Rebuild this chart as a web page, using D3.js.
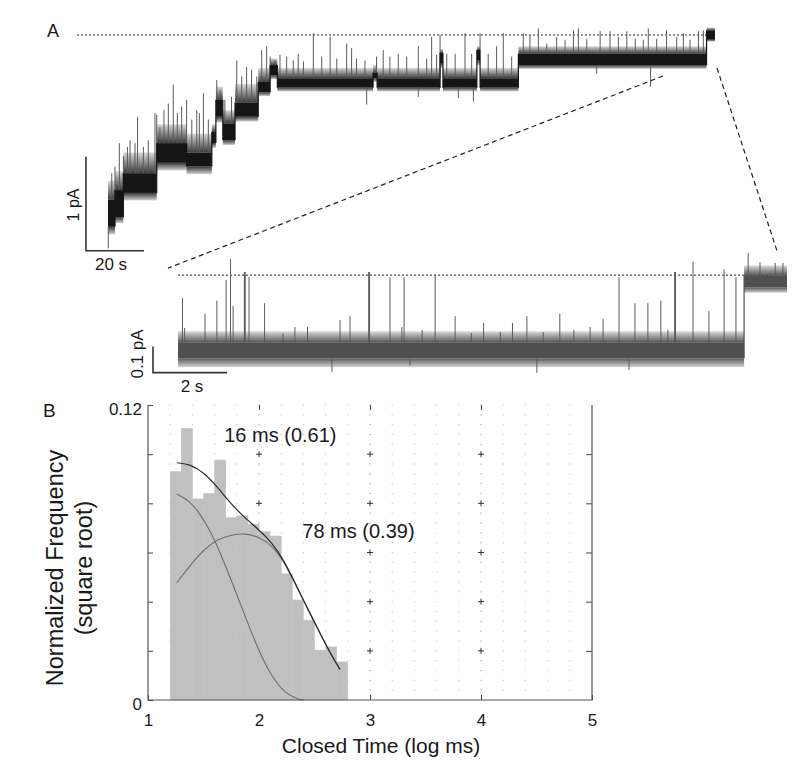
<!DOCTYPE html>
<html><head><meta charset="utf-8">
<script src="https://cdn.jsdelivr.net/npm/d3@7"></script>
<style>
body{margin:0;background:#fff}
svg{display:block}
text{font-family:"Liberation Sans",Arial,Helvetica,sans-serif;fill:#1a1a1a}
</style>
</head><body>
<svg id="c" width="800" height="766"></svg>
<script>
// ===================== DATA =====================
// Panel A, full record. Time in s, current in pA.
// [tStart, tEnd, coreLow, coreHigh, noiseLow, noiseHigh]
const levelsA = [
  [0, 2.4, 0.46, 0.75, 0.38, 0.95],
  [2.4, 5.3, 0.56, 0.85, 0.50, 1.05],
  [5.3, 16.8, 0.82, 1.03, 0.74, 1.25],
  [16.8, 27.1, 1.14, 1.35, 1.06, 1.55],
  [27.1, 35.8, 1.10, 1.25, 1.02, 1.45],
  [35.8, 37.2, 1.35, 1.47, 1.30, 1.55],
  [37.2, 39.6, 1.63, 1.81, 1.57, 1.95],
  [39.6, 43.8, 1.38, 1.56, 1.33, 1.70],
  [43.8, 51.8, 1.63, 1.78, 1.58, 1.98],
  [51.8, 55.9, 1.89, 2.00, 1.85, 2.15],
  [55.9, 58.4, 2.07, 2.18, 2.03, 2.25],
  [58.4, 91.4, 1.94, 2.04, 1.90, 2.15],
  [91.4, 92.8, 2.04, 2.10, 2.00, 2.18],
  [92.8, 114.5, 1.94, 2.04, 1.90, 2.15],
  [114.5, 115.5, 2.20, 2.31, 2.15, 2.35],
  [115.5, 127.2, 1.94, 2.04, 1.90, 2.15],
  [127.2, 128.3, 2.23, 2.34, 2.18, 2.38],
  [128.3, 141.5, 1.94, 2.04, 1.90, 2.15],
  [141.5, 206.4, 2.18, 2.30, 2.14, 2.38],
  [206.4, 209.3, 2.45, 2.55, 2.43, 2.58]
];
// upward openings [time, peak current]
const spikesUpA = [
  [1.3,1.03],[2.4,1.10],[3.9,1.35],[5.3,1.21],[6.7,1.31],[7.6,1.38],[9.3,1.35],[10.2,1.63],
  [12.2,1.31],[13.9,1.38],[16.2,1.67],[16.8,1.65],[17.9,1.52],[19.3,1.70],[20.8,1.77],[22.5,1.97],
  [23.9,1.67],[25.4,1.74],[27.1,1.81],[28.9,1.60],[30.6,1.70],[31.5,1.67],[32.9,1.88],[34.6,1.60],
  [37.5,2.02],[38.6,1.91],[40.3,1.81],[42.6,1.84],[44.4,2.23],[46.1,2.06],[47.8,2.16],[49.5,2.13],
  [51.3,2.06],[53.0,2.34],[54.7,2.38],[55.9,2.27],[57.6,2.23],[59.3,2.29],[61.6,2.27],[63.9,2.23],
  [65.6,2.30],[67.4,2.22],[70.8,2.52],[73.7,2.27],[76.6,2.48],[78.9,2.25],[82.3,2.41],[84.0,2.36],
  [85.7,2.25],[88.6,2.23],[92.6,2.27],[94.9,2.34],[97.2,2.27],[100.1,2.30],[103.0,2.27],[107.0,2.38],
  [109.9,2.25],[111.6,2.48],[113.3,2.29],[114.5,2.50],[116.8,2.30],[119.7,2.30],[123.1,2.52],[125.4,2.30],
  [128.3,2.52],[131.1,2.30],[134.0,2.38],[136.3,2.52],[139.2,2.27],[143.2,2.52],[145.5,2.50],[148.4,2.57],
  [151.3,2.41],[154.7,2.48],[157.6,2.45],[160.5,2.55],[162.2,2.57],[165.1,2.46],[169.7,2.54],[173.1,2.54],
  [176.0,2.48],[178.9,2.54],[181.8,2.46],[184.6,2.45],[186.3,2.57],[189.2,2.46],[192.6,2.55],[196.1,2.48],
  [198.4,2.52],[200.7,2.45],[203.6,2.54],[205.3,2.55]
];
// downward excursions [time, lowest current]
const spikesDownA = [[0.1,0.23],[89.2,1.76],[107.0,1.84],[120.8,1.83],[126.0,1.79],[168.5,2.09],[187.1,1.95]];
const openLevelA = 2.5;
const zoomWindowA = [191.4, 210.0];

// Panel A, expanded record. Time in s, current in pA above closed level.
const levelsZ = [
  [0, 15.3, -0.032, 0.030, -0.066, 0.072],
  [15.3, 16.46, 0.240, 0.288, 0.22, 0.325]
];
// [time, peak current, duration]
const spikesUpZ = [
  [0.12,0.20,0],[0.18,0.085,0],[0.73,0.14,0],[1.05,0.19,0],[1.30,0.27,0],[1.42,0.35,0],[1.49,0.17,0],
  [1.78,0.30,0.05],[1.92,0.28,0],[2.34,0.18,0],[2.84,0.065,0],[3.16,0.088,0],[3.50,0.088,0],
  [4.38,0.115,0],[4.65,0.13,0],[5.14,0.30,0.05],[5.73,0.28,0],[6.05,0.088,0],[6.11,0.28,0],
  [6.60,0.077,0],[6.95,0.29,0],[7.49,0.13,0],[7.93,0.065,0],[8.26,0.104,0],[8.71,0.069,0],
  [9.04,0.104,0],[9.43,0.13,0],[9.87,0.069,0],[10.32,0.14,0],[10.70,0.077,0],[11.14,0.088,0],
  [11.49,0.12,0],[11.92,0.28,0],[12.35,0.18,0],[12.70,0.18,0],[13.05,0.19,0],[13.24,0.077,0],
  [13.41,0.30,0.05],[13.92,0.34,0],[14.35,0.15,0],[14.76,0.31,0],[15.08,0.28,0],
  [15.41,0.373,0],[15.73,0.338,0],[16.14,0.335,0],[16.35,0.335,0]
];
const spikesDownZ = [[4.16,-0.085],[6.27,-0.06],[9.70,-0.088],[12.19,-0.077]];
const openLevelZ = 0.288;

// Panel B, closed-time histogram
const binStarts = [1.2,1.3,1.4,1.5,1.6,1.7,1.8,1.9,2.0,2.1,2.2,2.3,2.4,2.5,2.6,2.7];
const binWidth = 0.1;
const binFreq = [0.0929,0.1105,0.0818,0.0841,0.0976,0.0742,0.0749,0.0715,0.0685,0.0667,0.0513,0.0407,0.0325,0.0203,0.0216,0.0155];
const fitTotal = [[1.259,0.0965],[1.378,0.0960],[1.514,0.0922],[1.633,0.0862],[1.754,0.0795],[1.874,0.0740],[1.994,0.0695],[2.114,0.0642],[2.219,0.0572],[2.324,0.0478],[2.444,0.0366],[2.565,0.0258],[2.655,0.0180],[2.730,0.0125]];
const fitFast = [[1.259,0.0838],[1.363,0.0814],[1.468,0.0760],[1.574,0.0678],[1.678,0.0570],[1.784,0.0447],[1.889,0.0325],[1.994,0.0203],[2.114,0.0095],[2.234,0.0027],[2.354,0.0003],[2.399,0]];
const fitSlow = [[1.259,0.0477],[1.394,0.0556],[1.514,0.0617],[1.633,0.0655],[1.754,0.0672],[1.874,0.0678],[1.994,0.0664],[2.114,0.0631],[2.219,0.0568],[2.324,0.0474],[2.444,0.0365],[2.565,0.0257],[2.655,0.0178],[2.730,0.0123]];
const fitLabels = [{text:"16 ms (0.61)", x:1.687, y:0.1051},{text:"78 ms (0.39)", x:2.390, y:0.0660}];
const xTicks = [1,2,3,4,5];
const yTicks = [0,0.02,0.04,0.06,0.08,0.10,0.12];
const yTickLabels = {0:"0", 0.12:"0.12"};

// ===================== DRAW =====================
const svg = d3.select("#c");
const defs = svg.append("defs");
function grad(id, from, to) {
  const g = defs.append("linearGradient").attr("id", id).attr("x1", 0).attr("y1", 1).attr("x2", 0).attr("y2", 0);
  g.append("stop").attr("offset", 0).attr("stop-color", from);
  g.append("stop").attr("offset", 1).attr("stop-color", to);
}
grad("upA", "#3a3a3a", "#d8d8d8");
grad("dnA", "#d0d0d0", "#3a3a3a");
grad("upZ", "#5a5a5a", "#dadada");
grad("dnZ", "#d4d4d4", "#5a5a5a");

const xA = d3.scaleLinear().domain([0, 209.3]).range([108, 108 + 209.3*2.9]);
const yA = d3.scaleLinear().domain([0, 2.5]).range([270, 35]);
const xZ = d3.scaleLinear().domain([0, 16.46]).range([178, 787]);
const yZ = d3.scaleLinear().domain([0, 0.1]).range([350, 324]);

function drawTrace(g, x, y, levels, ups, downs, col) {
  g.selectAll(null).data(levels).join("rect")
    .attr("x", d => x(d[0])).attr("width", d => x(d[1]) - x(d[0]))
    .attr("y", d => y(d[5])).attr("height", d => y(d[3]) - y(d[5]))
    .attr("fill", `url(#${col.up})`);
  g.selectAll(null).data(levels).join("rect")
    .attr("x", d => x(d[0])).attr("width", d => x(d[1]) - x(d[0]))
    .attr("y", d => y(d[2])).attr("height", d => y(d[4]) - y(d[2]))
    .attr("fill", `url(#${col.dn})`);
  const segOf = t => levels.find(s => t >= s[0] && t <= s[1]) || levels[0];
  g.selectAll(null).data(ups.filter(d => !d[2])).join("line")
    .attr("x1", d => x(d[0])).attr("x2", d => x(d[0]))
    .attr("y1", d => y(segOf(d[0])[3])).attr("y2", d => y(d[1]))
    .attr("stroke", col.spike).attr("stroke-width", 1);
  g.selectAll(null).data(ups.filter(d => d[2])).join("rect")
    .attr("x", d => x(d[0])).attr("width", d => Math.max(1.5, x(d[0]+d[2]) - x(d[0])))
    .attr("y", d => y(d[1])).attr("height", d => y(segOf(d[0])[3]) - y(d[1]))
    .attr("fill", col.spike);
  g.selectAll(null).data(downs).join("line")
    .attr("x1", d => x(d[0])).attr("x2", d => x(d[0]))
    .attr("y1", d => y(segOf(d[0])[2])).attr("y2", d => y(d[1]))
    .attr("stroke", col.spike).attr("stroke-width", 1);
  g.selectAll(null).data(levels.slice(1)).join("line")
    .attr("x1", d => x(d[0])).attr("x2", d => x(d[0]))
    .attr("y1", (d,i) => y(Math.min(levels[i][2], d[2])))
    .attr("y2", (d,i) => y(Math.max(levels[i][3], d[3])))
    .attr("stroke", col.core).attr("stroke-width", 1.2);
  g.selectAll(null).data(levels).join("rect")
    .attr("x", d => x(d[0])).attr("width", d => x(d[1]) - x(d[0]))
    .attr("y", d => y(d[3])).attr("height", d => y(d[2]) - y(d[3]))
    .attr("fill", col.core);
}

const gA = svg.append("g");
gA.append("line").attr("x1", xA(-10.7)).attr("x2", xA(208.3)).attr("y1", yA(openLevelA)).attr("y2", yA(openLevelA))
  .attr("stroke", "#222").attr("stroke-width", 1).attr("stroke-dasharray", "2,2");
gA.append("line").attr("x1", xZ(0)).attr("x2", xZ(16.1)).attr("y1", yZ(openLevelZ)).attr("y2", yZ(openLevelZ))
  .attr("stroke", "#222").attr("stroke-width", 1).attr("stroke-dasharray", "2,2");

drawTrace(gA.append("g"), xA, yA, levelsA, spikesUpA, spikesDownA, {up:"upA", dn:"dnA", core:"#151515", spike:"#5a5a5a"});
drawTrace(gA.append("g"), xZ, yZ, levelsZ, spikesUpZ, spikesDownZ, {up:"upZ", dn:"dnZ", core:"#4f4f4f", spike:"#5a5a5a"});

gA.append("line").attr("x1", xA(zoomWindowA[0])).attr("y1", yA(2.064)).attr("x2", xZ(-0.27)).attr("y2", yZ(0.315))
  .attr("stroke", "#222").attr("stroke-width", 1.2).attr("stroke-dasharray", "5,3.5");
gA.append("line").attr("x1", xA(zoomWindowA[1])).attr("y1", yA(2.149)).attr("x2", xZ(16.2)).attr("y2", yZ(0.377))
  .attr("stroke", "#222").attr("stroke-width", 1.2).attr("stroke-dasharray", "5,3.5");

gA.append("path").attr("d", `M${xA(-7.6)},${yA(1.205)}V${yA(0.205)}H${xA(12.4)}`)
  .attr("fill", "none").attr("stroke", "#333").attr("stroke-width", 1.6);
gA.append("path").attr("d", `M${xZ(-0.676)},${yZ(0.013)}V${yZ(-0.087)}H${xZ(1.324)}`)
  .attr("fill", "none").attr("stroke", "#333").attr("stroke-width", 1.6);
gA.append("text").attr("transform", "translate(79,205) rotate(-90)").attr("text-anchor", "middle")
  .attr("font-size", 16).text("1 pA");
gA.append("text").attr("x", 111).attr("y", 270).attr("text-anchor", "middle").attr("font-size", 17).text("20 s");
gA.append("text").attr("transform", "translate(143,354) rotate(-90)").attr("text-anchor", "middle")
  .attr("font-size", 17).text("0.1 pA");
gA.append("text").attr("x", 192).attr("y", 392).attr("text-anchor", "middle").attr("font-size", 17).text("2 s");
svg.append("text").attr("x", 47).attr("y", 37).attr("font-size", 18).text("A");
svg.append("text").attr("x", 43).attr("y", 417).attr("font-size", 19).text("B");

// ---- Panel B
const xH = d3.scaleLinear().domain([1, 5]).range([148, 592]);
const yH = d3.scaleLinear().domain([0, 0.12]).range([700, 405]);
const gB = svg.append("g");

const gridX = d3.range(6, 25).map(i => i*0.2);
const gridY = d3.range(1, 31).map(i => i*0.004);
const dots = [];
gridX.forEach(gx => gridY.forEach(gy => dots.push([gx, gy])));
gB.append("g").selectAll("rect").data(dots).join("rect")
  .attr("x", d => xH(d[0]) - 0.5).attr("y", d => yH(d[1]) - 0.5).attr("width", 1).attr("height", 1)
  .attr("fill", d => [2,3,4].some(m => Math.abs(d[0]-m) < 1e-6) ? "#888" : "#b5b5b5");
const crosses = [];
[2,3,4].forEach(mx => [0.02,0.04,0.06,0.08,0.10].forEach(my => crosses.push([mx,my])));
gB.append("g").selectAll("path").data(crosses).join("path")
  .attr("d", d => `M${xH(d[0])-3},${yH(d[1])}h6M${xH(d[0])},${yH(d[1])-3}v6`)
  .attr("stroke", "#333").attr("stroke-width", 1);

const axB = d3.axisBottom(xH).tickValues(xTicks).tickFormat(d3.format("d"))
  .tickSizeInner(-5).tickSizeOuter(0).tickPadding(14);
const gx = gB.append("g").attr("transform", "translate(0,700)").call(axB);
gx.select(".domain").remove();
gx.selectAll("text").attr("font-size", 17).attr("fill", "#1a1a1a").attr("font-family", "Liberation Sans, Arial, sans-serif");
gx.selectAll("line").attr("stroke", "#444");
const axT = d3.axisTop(xH).tickValues([2,3,4]).tickFormat("").tickSizeInner(-5).tickSizeOuter(0);
const gt = gB.append("g").attr("transform", "translate(0,405)").call(axT);
gt.select(".domain").remove(); gt.selectAll("line").attr("stroke", "#444");
const axL = d3.axisLeft(yH).tickValues(yTicks).tickFormat(d => yTickLabels[d] || "")
  .tickSizeInner(-5).tickSizeOuter(0).tickPadding(6);
const gl = gB.append("g").attr("transform", "translate(148,0)").call(axL);
gl.select(".domain").remove();
gl.selectAll("text").attr("font-size", 17).attr("fill", "#1a1a1a").attr("dy", "0.55em").attr("font-family", "Liberation Sans, Arial, sans-serif");
gl.selectAll("line").attr("stroke", "#444");
const axR = d3.axisRight(yH).tickValues(yTicks.slice(1, -1)).tickFormat("").tickSizeInner(-6).tickSizeOuter(0);
const gr = gB.append("g").attr("transform", "translate(592,0)").call(axR);
gr.select(".domain").remove(); gr.selectAll("line").attr("stroke", "#444");

gB.append("g").selectAll("rect").data(binStarts).join("rect")
  .attr("x", d => xH(d)).attr("width", d => xH(d + binWidth) - xH(d))
  .attr("y", (d,i) => yH(binFreq[i])).attr("height", (d,i) => yH(0) - yH(binFreq[i]))
  .attr("fill", "#c0c0c0").attr("stroke", "#c0c0c0").attr("stroke-width", 0.5);

const line = d3.line().x(d => xH(d[0])).y(d => yH(d[1])).curve(d3.curveBasis);
gB.append("path").attr("d", line(fitFast)).attr("fill", "none").attr("stroke", "#6e6e6e").attr("stroke-width", 1.1);
gB.append("path").attr("d", line(fitSlow)).attr("fill", "none").attr("stroke", "#6e6e6e").attr("stroke-width", 1.1);
gB.append("path").attr("d", line(fitTotal)).attr("fill", "none").attr("stroke", "#2a2a2a").attr("stroke-width", 1.2);

gB.append("path").attr("d", `M${xH(1)},${yH(0.12)}V${yH(0)}H${xH(5)}V${yH(0.12)}`)
  .attr("fill", "none").attr("stroke", "#555").attr("stroke-width", 1.2);

gB.selectAll(null).data(fitLabels).join("text")
  .attr("x", d => xH(d.x)).attr("y", d => yH(d.y)).attr("font-size", 20).text(d => d.text);

gB.append("text").attr("transform", "translate(63,568) rotate(-90)").attr("text-anchor", "middle")
  .attr("font-size", 23.5).text("Normalized Frequency");
gB.append("text").attr("transform", "translate(92,568) rotate(-90)").attr("text-anchor", "middle")
  .attr("font-size", 23.5).text("(square root)");
gB.append("text").attr("x", 381).attr("y", 753).attr("text-anchor", "middle")
  .attr("font-size", 21).text("Closed Time (log ms)");
</script>
</body></html>
